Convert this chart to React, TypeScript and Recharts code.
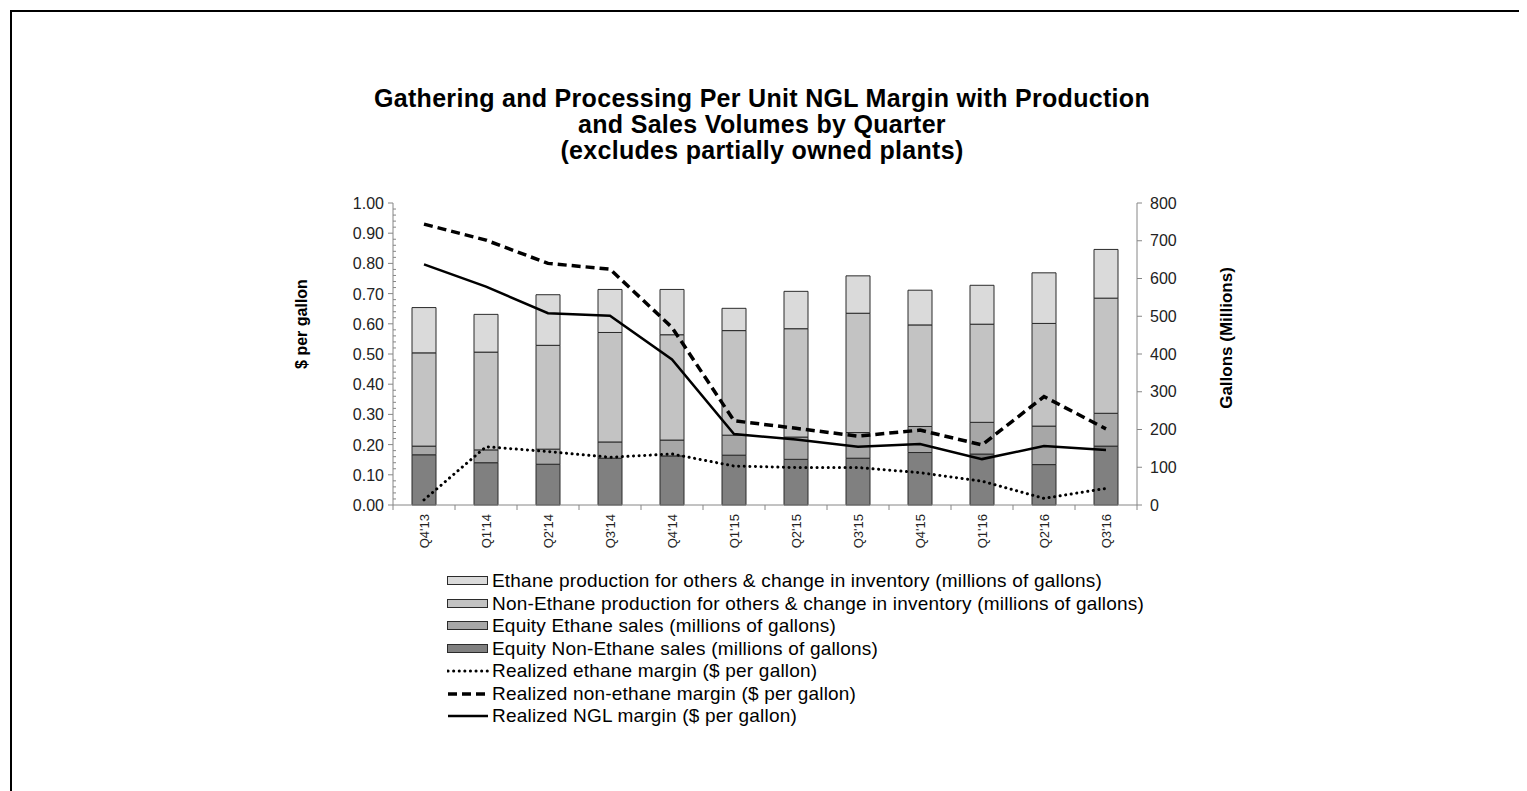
import { ComposedChart, Bar, Line, XAxis, YAxis, Legend } from "recharts";

const quarters = ["Q4'13", "Q1'14", "Q2'14", "Q3'14", "Q4'14", "Q1'15", "Q2'15", "Q3'15", "Q4'15", "Q1'16", "Q2'16", "Q3'16"];

// millions of gallons (right axis)
const equityNonEthaneSales = [133, 112, 108, 124, 130, 132, 121, 124, 139, 135, 107, 156];
const equityEthaneSales = [23, 34, 40, 43, 42, 53, 59, 68, 69, 84, 102, 87];
const nonEthaneProduction = [247, 259, 275, 290, 279, 277, 287, 316, 269, 260, 272, 305];
const ethaneProduction = [120, 100, 134, 114, 120, 59, 99, 99, 92, 103, 134, 129];

// $ per gallon (left axis)
const ethaneMargin = [0.017, 0.193, 0.177, 0.158, 0.169, 0.129, 0.124, 0.124, 0.107, 0.079, 0.022, 0.055];
const nonEthaneMargin = [0.93, 0.877, 0.8, 0.781, 0.588, 0.279, 0.254, 0.228, 0.248, 0.199, 0.359, 0.252];
const nglMargin = [0.797, 0.723, 0.635, 0.627, 0.482, 0.235, 0.217, 0.193, 0.202, 0.152, 0.195, 0.182];

const leftMinorTicks = Array.from({ length: 51 }, (_, i) => i / 50);
const rightTicks = [0, 100, 200, 300, 400, 500, 600, 700, 800];

const data = quarters.map((q, i) => ({
  quarter: q,
  equityNonEthaneSales: equityNonEthaneSales[i],
  equityEthaneSales: equityEthaneSales[i],
  nonEthaneProduction: nonEthaneProduction[i],
  ethaneProduction: ethaneProduction[i],
  ethaneMargin: ethaneMargin[i],
  nonEthaneMargin: nonEthaneMargin[i],
  nglMargin: nglMargin[i],
}));

const FONT = "'Liberation Sans', Arial, sans-serif";
const AXIS = "#868686";
const BAR_STROKE = "#2b2b2b";
const TICK_TEXT = "#222";

const legendItems = [
  { kind: "bar", fill: "#dadada", label: "Ethane production for others & change in inventory (millions of gallons)" },
  { kind: "bar", fill: "#c3c3c3", label: "Non-Ethane production for others & change in inventory (millions of gallons)" },
  { kind: "bar", fill: "#a7a7a7", label: "Equity Ethane sales (millions of gallons)" },
  { kind: "bar", fill: "#808080", label: "Equity Non-Ethane sales (millions of gallons)" },
  { kind: "line", dash: "0.1 5.5", width: 3, label: "Realized ethane margin ($ per gallon)" },
  { kind: "line", dash: "9 5", width: 3.5, label: "Realized non-ethane margin ($ per gallon)" },
  { kind: "line", dash: undefined, width: 2.5, label: "Realized NGL margin ($ per gallon)" },
];

const LegendBox = () => (
  <div style={{ fontFamily: FONT, fontSize: 19, letterSpacing: 0.2, color: "#000" }}>
    {legendItems.map((it) => (
      <div key={it.label} style={{ height: 22.5, display: "flex", alignItems: "center", whiteSpace: "nowrap" }}>
        <svg width={42} height={12} style={{ marginRight: 3 }}>
          {it.kind === "bar" ? (
            <rect x={0.5} y={1.5} width={40} height={8} fill={it.fill} stroke={BAR_STROKE} strokeWidth={1} />
          ) : (
            <line
              x1={1}
              x2={41}
              y1={6}
              y2={6}
              stroke="#000"
              strokeWidth={it.width}
              strokeDasharray={it.dash}
              strokeLinecap={it.dash && it.dash.startsWith("0.1") ? "round" : "butt"}
            />
          )}
        </svg>
        <span>{it.label}</span>
      </div>
    ))}
  </div>
);

const LeftTick = (props: any) => {
  const { x, y, payload } = props;
  const v = payload.value;
  const major = Math.abs(v * 10 - Math.round(v * 10)) < 1e-6;
  if (!major) {
    return <line x1={x} x2={x + 3} y1={y} y2={y} stroke={AXIS} strokeWidth={1} />;
  }
  return (
    <g>
      <line x1={x - 5} x2={x} y1={y} y2={y} stroke={AXIS} strokeWidth={1} />
      <text x={x - 9} y={y} dy={6} textAnchor="end" fontSize={16} fontFamily={FONT} fill={TICK_TEXT}>
        {v.toFixed(2)}
      </text>
    </g>
  );
};

const QuarterTick = (props: any) => {
  const { x, y, payload } = props;
  const half = payload.offset ?? 31;
  const last = payload.index === quarters.length - 1;
  return (
    <g>
      <line x1={x - half} x2={x - half} y1={y} y2={y + 5} stroke={AXIS} strokeWidth={1} />
      {last && <line x1={x + half} x2={x + half} y1={y} y2={y + 5} stroke={AXIS} strokeWidth={1} />}
      <text
        x={x}
        y={y + 9}
        dy={5}
        transform={`rotate(-90, ${x}, ${y + 9})`}
        textAnchor="end"
        fontSize={13}
        fontFamily={FONT}
        fill={TICK_TEXT}
      >
        {payload.value}
      </text>
    </g>
  );
};

const AxisTitle = (side: "left" | "right", text: string, size: number, dxPos: number, dyPos: number) => (props: any) => {
  const { x, y, width, height } = props.viewBox;
  const cx = side === "left" ? x + dxPos : x + width - dxPos;
  const cy = y + height / 2 + dyPos;
  return (
    <text
      x={cx}
      y={cy}
      transform={`rotate(-90, ${cx}, ${cy})`}
      textAnchor="middle"
      fontSize={size}
      fontWeight="bold"
      fontFamily={FONT}
      fill="#000"
    >
      {text}
    </text>
  );
};

export default function App() {
  return (
    <div style={{ position: "relative", width: 1519, height: 783, overflow: "hidden", background: "#fff" }}>
      <div
        style={{
          position: "absolute",
          left: 2,
          top: 2,
          width: 2000,
          height: 2000,
          borderTop: "2px solid #000",
          borderLeft: "2px solid #000",
        }}
      />
      <div
        style={{
          position: "absolute",
          left: 254,
          top: 77,
          width: 1000,
          textAlign: "center",
          fontFamily: FONT,
          fontWeight: "bold",
          fontSize: 25,
          letterSpacing: 0.3,
          lineHeight: "26px",
          color: "#000",
        }}
      >
        <div>Gathering and Processing Per Unit NGL Margin with Production</div>
        <div>and Sales Volumes by Quarter</div>
        <div>(excludes partially owned plants)</div>
      </div>
      <ComposedChart
        width={1519}
        height={783}
        data={data}
        margin={{ top: 195, right: 290, bottom: 226, left: 290 }}
        barSize={24}
        style={{ position: "absolute", left: 0, top: 0 }}
      >
        <XAxis
          dataKey="quarter"
          height={60}
          interval={0}
          tickLine={false}
          tickSize={0}
          tickMargin={0}
          tick={<QuarterTick />}
          axisLine={{ stroke: AXIS }}
        />
        <YAxis
          yAxisId="left"
          orientation="left"
          width={95}
          domain={[0, 1]}
          ticks={leftMinorTicks}
          interval={0}
          tickLine={false}
          tickSize={0}
          tickMargin={0}
          tick={<LeftTick />}
          axisLine={{ stroke: AXIS }}
          label={{ content: AxisTitle("left", "$ per gallon", 16, 9, -30) }}
        />
        <YAxis
          yAxisId="right"
          orientation="right"
          width={100}
          domain={[0, 800]}
          ticks={rightTicks}
          interval={0}
          tickSize={5}
          tickMargin={8}
          tickLine={{ stroke: AXIS }}
          axisLine={{ stroke: AXIS }}
          tick={{ fontSize: 16, fontFamily: FONT, fill: TICK_TEXT }}
          label={{ content: AxisTitle("right", "Gallons (Millions)", 17, 5, -16) }}
        />
        <Bar yAxisId="right" dataKey="equityNonEthaneSales" stackId="v" fill="#808080" stroke={BAR_STROKE} strokeWidth={1} isAnimationActive={false} />
        <Bar yAxisId="right" dataKey="equityEthaneSales" stackId="v" fill="#a7a7a7" stroke={BAR_STROKE} strokeWidth={1} isAnimationActive={false} />
        <Bar yAxisId="right" dataKey="nonEthaneProduction" stackId="v" fill="#c3c3c3" stroke={BAR_STROKE} strokeWidth={1} isAnimationActive={false} />
        <Bar yAxisId="right" dataKey="ethaneProduction" stackId="v" fill="#dadada" stroke={BAR_STROKE} strokeWidth={1} isAnimationActive={false} />
        <Line yAxisId="left" type="linear" dataKey="ethaneMargin" stroke="#000" strokeWidth={3} strokeDasharray="0.1 5.5" strokeLinecap="round" dot={false} activeDot={false} isAnimationActive={false} />
        <Line yAxisId="left" type="linear" dataKey="nonEthaneMargin" stroke="#000" strokeWidth={3.5} strokeDasharray="9 5" dot={false} activeDot={false} isAnimationActive={false} />
        <Line yAxisId="left" type="linear" dataKey="nglMargin" stroke="#000" strokeWidth={2.5} dot={false} activeDot={false} isAnimationActive={false} />
        <Legend
          layout="vertical"
          align="center"
          verticalAlign="middle"
          content={<LegendBox />}
          wrapperStyle={{ left: 439, top: 562, width: 800, height: 160 }}
        />
      </ComposedChart>
    </div>
  );
}
